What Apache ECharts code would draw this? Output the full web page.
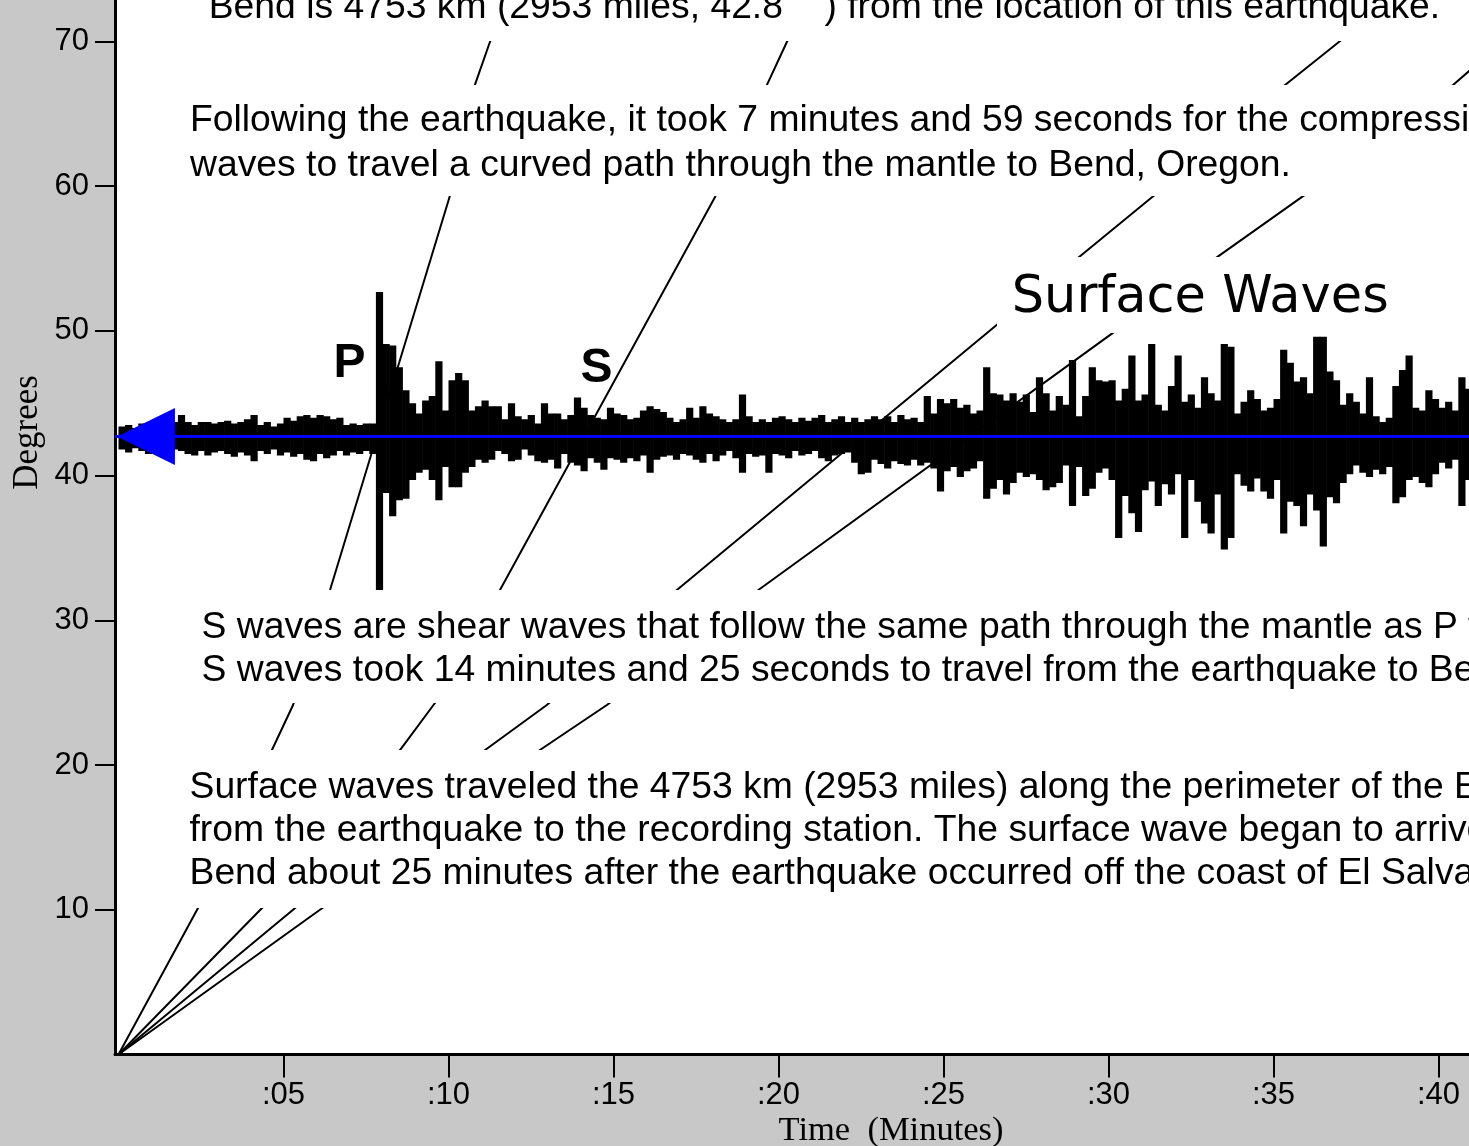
<!DOCTYPE html>
<html>
<head>
<meta charset="utf-8">
<script src="https://cdn.jsdelivr.net/npm/echarts@6/dist/echarts.min.js"></script>
<style>
html,body{margin:0;padding:0;background:#c8c8c8;overflow:hidden}
#c{width:1469px;height:1146px}
</style>
</head>
<body>
<div id="c"></div>
<script>
// ---------- axes ----------
const X_TICKS = [5, 10, 15, 20, 25, 30, 35, 40];
const X_TICK_LABELS = [':05', ':10', ':15', ':20', ':25', ':30', ':35', ':40'];
const Y_TICKS = [10, 20, 30, 40, 50, 60, 70];
const Y_TICK_LABELS = ['10', '20', '30', '40', '50', '60', '70'];
const X_MIN = -0.106, X_MAX = 40.924;   // minutes
const Y_MIN = 0, Y_MAX = 72.87;         // degrees

// ---------- seismogram (Bend, Oregon, 42.7 deg) ----------
const TRACE_BASE = 42.7;
const TRACE_T0 = 0;
const TRACE_DT = 0.2; // minutes per bin
// peak excursion above the trace line per bin (degrees)
const traceUp = [
  0.7,0.8,0.6,0.9,0.7,0.8,0.9,0.7,1.0,1.5,
  1.0,0.8,1.0,1.0,0.9,1.0,1.1,0.9,1.0,1.2,
  1.5,0.8,1.0,0.7,0.9,1.3,1.1,1.4,1.5,1.3,
  1.5,1.4,1.2,1.3,0.8,0.9,0.8,0.9,0.9,10.0,
  6.4,6.3,4.8,3.2,2.3,1.6,2.5,2.8,5.2,1.8,
  3.9,4.4,3.9,1.8,2.1,2.5,2.1,2.1,1.2,2.3,
  1.4,1.2,1.5,0.9,2.3,1.6,1.6,1.2,1.5,2.7,
  2.0,1.5,1.3,1.2,2.0,1.6,1.5,1.2,1.3,1.8,
  2.1,1.9,1.7,1.3,1.0,1.2,2.0,1.3,2.1,1.6,
  1.4,1.2,1.0,1.2,2.9,1.4,1.0,1.2,1.0,1.3,
  1.4,1.2,1.0,1.3,1.1,1.3,1.5,1.0,1.2,1.4,
  1.0,1.3,1.0,1.2,1.4,1.2,1.4,1.0,1.5,1.2,
  1.3,1.0,2.8,1.6,2.6,2.3,2.6,2.0,2.2,1.6,
  1.8,4.8,3.0,2.9,2.5,3.0,2.4,2.9,1.7,4.1,
  3.0,1.8,2.8,2.2,5.3,1.4,2.8,4.8,3.9,3.8,
  3.9,2.5,3.3,5.6,2.5,2.9,6.4,2.2,1.8,3.5,
  5.6,2.4,2.9,2.0,4.1,3.0,2.5,6.4,6.2,1.6,
  2.4,3.2,2.6,1.8,2.0,2.6,6.0,5.1,3.8,4.1,
  3.0,6.9,6.9,4.5,3.9,2.2,3.0,2.4,1.6,4.1,
  1.4,1.0,1.3,3.5,4.6,5.6,2.0,1.8,3.2,2.6,
  2.0,2.4,1.8,4.1,3.3
];
// peak excursion below the trace line per bin (degrees)
const traceDown = [
  0.9,1.1,0.8,1.0,1.2,0.9,1.0,1.1,0.9,1.0,
  1.2,1.3,1.0,1.3,1.1,1.0,1.2,1.4,1.1,1.3,
  1.7,1.0,1.2,0.9,1.3,1.1,1.4,1.2,1.6,1.7,
  1.2,1.5,1.3,1.0,1.3,1.1,1.2,1.0,1.2,11.5,
  3.9,5.5,4.4,4.3,3.0,2.5,2.3,3.0,4.4,2.1,
  3.5,3.5,2.5,2.1,1.6,1.8,1.6,1.0,1.2,1.7,
  1.6,0.9,1.3,1.7,1.8,1.6,2.2,1.2,1.8,2.0,
  2.4,1.5,1.8,2.3,1.5,1.6,1.8,1.5,1.7,1.3,
  2.5,1.6,1.4,1.3,1.6,1.2,1.3,1.6,1.8,1.2,
  1.7,1.3,1.0,1.5,2.5,1.2,1.4,1.3,2.5,1.2,
  1.3,1.5,1.0,1.3,1.2,1.0,1.5,1.7,1.3,1.2,
  1.1,1.8,2.6,2.5,1.6,1.9,2.2,1.7,1.9,2.0,
  1.6,2.0,1.8,2.2,3.8,2.4,2.1,2.8,2.4,2.2,
  1.7,4.3,3.6,3.0,4.0,3.2,2.5,2.8,2.6,3.0,
  3.7,3.5,3.2,2.0,4.8,2.1,4.1,3.6,2.5,2.2,
  3.0,7.0,4.1,5.3,6.6,3.7,3.1,4.8,3.3,4.0,
  2.6,7.0,3.0,4.5,6.0,6.7,4.0,7.8,7.0,2.6,
  3.4,3.8,2.9,3.8,4.3,3.0,6.7,4.5,4.8,6.2,
  4.0,5.1,7.6,4.2,4.6,3.2,2.6,2.0,2.5,2.8,
  2.3,2.6,2.1,4.6,4.2,3.0,2.8,3.2,3.5,2.6,
  1.8,2.2,1.6,4.8,3.0
];

// ---------- travel-time curves (minutes, degrees) ----------
const pWaveT = [0, 2.41, 4.65, 5.29, 6.41, 10.05, 10.80, 11.26, 11.75];
const pWaveD = [0, 10.12, 21.04, 24.15, 32.1, 59.4, 67.0, 70.0, 72.87];
const sWaveT = [0, 4.35, 8.53, 9.59, 11.56, 18.11, 19.65, 20.26, 20.82];
const sWaveD = [0, 10.12, 21.04, 24.29, 32.1, 59.4, 67.0, 70.0, 72.87];
const surf1T = [0, 5.40, 11.11, 12.98, 16.92, 26.50, 29.10, 31.40, 35.35, 37.00, 38.56];
const surf1D = [0, 10.21, 21.04, 24.15, 32.1, 50.2, 55.1, 59.4, 67.0, 70.0, 72.87];
const surf2T = [0, 6.19, 12.77, 14.80, 19.39, 30.05, 33.29, 35.95, 40.44, 41.30];
const surf2D = [0, 10.14, 21.04, 24.15, 32.1, 49.73, 55.1, 59.4, 67.0, 68.7];

// station marker (triangle) vertices
const markerT = [-0.05, 1.71, 1.71];
const markerD = [42.7, 44.67, 40.73];

// ---------- annotation texts ----------
const noteTop = ['Bend is 4753 km (2953 miles, 42.8    ) from the location of this earthquake.'];
const noteP = ['Following the earthquake, it took 7 minutes and 59 seconds for the compressional',
               'waves to travel a curved path through the mantle to Bend, Oregon.'];
const noteS = ['S waves are shear waves that follow the same path through the mantle as P waves.',
               'S waves took 14 minutes and 25 seconds to travel from the earthquake to Bend.'];
const noteSurf = ['Surface waves traveled the 4753 km (2953 miles) along the perimeter of the Earth',
                  'from the earthquake to the recording station. The surface wave began to arrive',
                  'Bend about 25 minutes after the earthquake occurred off the coast of El Salvador.'];
const labelP = 'P', labelS = 'S', labelSurface = 'Surface Waves';
const xName = 'Time  (Minutes)', yName = 'Degrees';

// ---------- build ----------
const zip = (a, b) => a.map((v, i) => [v, b[i]]);
const traceData = traceUp.map((u, i) => [TRACE_T0 + i * TRACE_DT, TRACE_BASE + u, TRACE_BASE - traceDown[i]]);

const chart = echarts.init(document.getElementById('c'), null, {renderer: 'canvas', width: 1469, height: 1146});

const BODY_FONT = '37.3px "Liberation Sans", Arial, sans-serif';
const WHITE_BOXES = [
  {x: 200, y: -10, w: 1269, h: 51},
  {x: 180, y: 85, w: 1289, h: 111},
  {x: 997, y: 257, w: 415, h: 76},
  {x: 193, y: 590, w: 1276, h: 113},
  {x: 181, y: 750, w: 1288, h: 158}
];
function textLines(lines, x, y0, step) {
  return lines.map((s, k) => ({
    type: 'text', z: 101, silent: true,
    style: {text: s, x: x, y: y0 + k * step, font: BODY_FONT, fill: '#000', align: 'left', verticalAlign: 'middle'}
  }));
}
const graphics = [].concat(
  WHITE_BOXES.map(b => ({type: 'rect', z: 100, silent: true, shape: {x: b.x, y: b.y, width: b.w, height: b.h}, style: {fill: '#fff'}})),
  textLines(noteTop, 208.7, 7.5, 44),
  textLines(noteP, 190, 121, 45),
  textLines(noteS, 201.5, 627.3, 43.4),
  textLines(noteSurf, 189.5, 787.3, 43.4),
  [
    {type: 'text', z: 101, silent: true, style: {text: labelSurface, x: 1011.7, y: 298.5, font: '51px "DejaVu Sans", sans-serif', fill: '#000', align: 'left', verticalAlign: 'middle'}},
    {type: 'text', z: 101, silent: true, style: {text: labelP, x: 333.5, y: 364, font: 'bold 48px "Liberation Sans", Arial, sans-serif', fill: '#000', align: 'left', verticalAlign: 'middle'}},
    {type: 'text', z: 101, silent: true, style: {text: labelS, x: 580.5, y: 369, font: 'bold 48px "Liberation Sans", Arial, sans-serif', fill: '#000', align: 'left', verticalAlign: 'middle'}},
    {type: 'text', z: 101, silent: true, x: 28, y: 432.5, rotation: Math.PI / 2, style: {text: yName, x: 0, y: 0, font: '35px "Liberation Serif", serif', fill: '#000', align: 'center', verticalAlign: 'middle'}},
    {type: 'text', z: 101, silent: true, style: {text: xName, x: 891, y: 1131, font: '34.5px "Liberation Serif", serif', fill: '#000', align: 'center', verticalAlign: 'middle'}}
  ]
);

const curveStyle = {color: '#000', width: 2};
const option = {
  backgroundColor: '#c8c8c8',
  animation: false,
  grid: {left: 115, right: 0, top: 0, bottom: 91.5, show: true, backgroundColor: '#ffffff', borderWidth: 0},
  xAxis: {
    type: 'value', min: X_MIN, max: X_MAX,
    axisLine: {show: true, onZero: false, lineStyle: {color: '#000', width: 3}},
    axisTick: {show: true, length: 23, customValues: X_TICKS, lineStyle: {color: '#000', width: 2}},
    axisLabel: {show: true, customValues: X_TICKS, margin: 25, color: '#000', fontSize: 31, fontFamily: '"Liberation Sans", Arial, sans-serif',
      formatter: v => X_TICK_LABELS[X_TICKS.indexOf(Math.round(v))] || ''},
    splitLine: {show: false}
  },
  yAxis: {
    type: 'value', min: Y_MIN, max: Y_MAX,
    axisLine: {show: true, onZero: false, lineStyle: {color: '#000', width: 3}},
    axisTick: {show: true, length: 20, customValues: Y_TICKS, lineStyle: {color: '#000', width: 2}},
    axisLabel: {show: true, customValues: Y_TICKS, margin: 26, color: '#000', fontSize: 31, fontFamily: '"Liberation Sans", Arial, sans-serif',
      formatter: v => Y_TICK_LABELS[Y_TICKS.indexOf(Math.round(v))] || ''},
    splitLine: {show: false}
  },
  graphic: {elements: graphics},
  series: [
    {
      name: 'Seismogram', type: 'custom', z: 2, clip: true,
      data: traceData,
      encode: {x: 0, y: [1, 2]},
      renderItem: (params, api) => {
        const t = api.value(0);
        const p1 = api.coord([t, api.value(1)]);
        const p2 = api.coord([t + TRACE_DT, api.value(2)]);
        return {type: 'rect', shape: {x: p1[0], y: p1[1], width: p2[0] - p1[0] + 0.6, height: p2[1] - p1[1]}, style: {fill: '#000'}};
      }
    },
    {name: 'P', type: 'line', z: 3, showSymbol: false, symbol: 'none', data: zip(pWaveT, pWaveD), lineStyle: curveStyle},
    {name: 'S', type: 'line', z: 3, showSymbol: false, symbol: 'none', data: zip(sWaveT, sWaveD), lineStyle: curveStyle},
    {name: 'Surface1', type: 'line', z: 3, showSymbol: false, symbol: 'none', data: zip(surf1T, surf1D), lineStyle: curveStyle},
    {name: 'Surface2', type: 'line', z: 3, showSymbol: false, symbol: 'none', data: zip(surf2T, surf2D), lineStyle: curveStyle},
    {name: 'Station', type: 'line', z: 4, showSymbol: false, symbol: 'none', data: [[X_MIN, TRACE_BASE], [X_MAX, TRACE_BASE]], lineStyle: {color: '#0000ff', width: 3}},
    {
      name: 'Marker', type: 'custom', z: 5, data: [[markerT[0], markerD[0]]],
      renderItem: (params, api) => ({
        type: 'polygon',
        shape: {points: markerT.map((t, i) => api.coord([t, markerD[i]]))},
        style: {fill: '#0000ff'}
      })
    }
  ]
};
chart.setOption(option);
</script>
</body>
</html>
